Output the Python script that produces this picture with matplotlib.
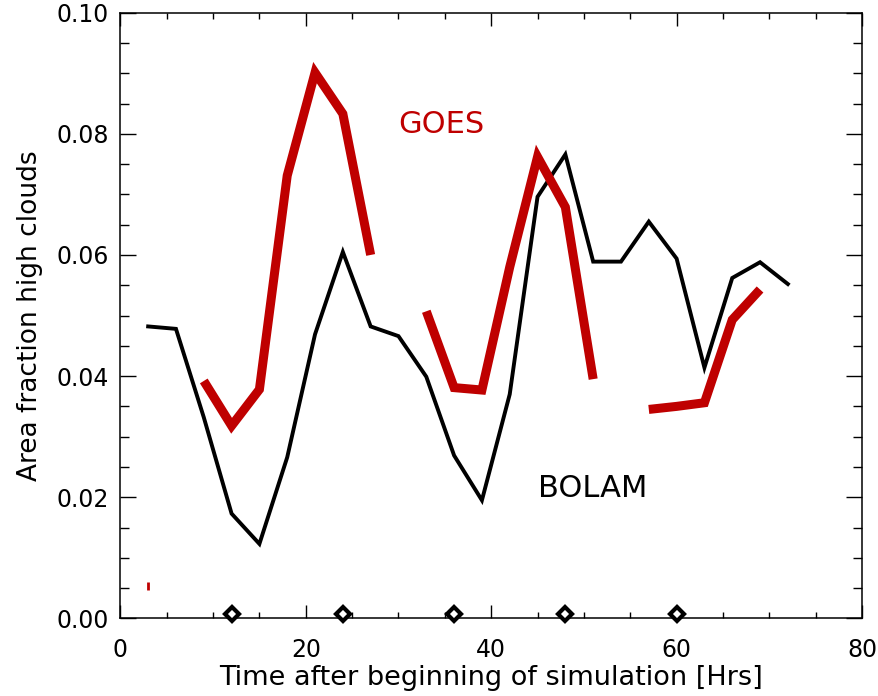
import numpy as np
import matplotlib
matplotlib.use("Agg")
import matplotlib.pyplot as plt
from matplotlib.ticker import MultipleLocator

# BOLAM model, every 3 hours
bolam_t = [3, 6, 9, 12, 15, 18, 21, 24, 27, 30, 33, 36, 39, 42, 45, 48,
           51, 54, 57, 60, 63, 66, 69, 72]
bolam_v = [0.0482, 0.0478, 0.0332, 0.0173, 0.0123, 0.0266, 0.0469, 0.0605,
           0.0482, 0.0466, 0.0399, 0.0269, 0.0195, 0.0370, 0.0696, 0.0766,
           0.0589, 0.0589, 0.0655, 0.0594, 0.0414, 0.0562, 0.0588, 0.0552]

# GOES observations, with gaps (NaN)
goes_t = [3, 6, 9, 12, 15, 18, 21, 24, 27, 30, 33, 36, 39, 42, 45, 48,
          51, 54, 57, 60, 63, 66, 69]
goes_v = [0.0053, np.nan, 0.0392, 0.0318, 0.0378, 0.0731, 0.0901, 0.0833,
          0.0600, np.nan, 0.0507, 0.0381, 0.0377, 0.0580, 0.0762, 0.0679,
          0.0395, np.nan, 0.0345, 0.0350, 0.0356, 0.0493, 0.0543]

# markers along the bottom
mark_t = [12, 24, 36, 48, 60]
mark_v = [0.0008, 0.0008, 0.0008, 0.0008, 0.0008]

RED = "#BF0000"

plt.rcParams["font.family"] = ["DejaVu Sans"]

fig = plt.figure(figsize=(8.79, 6.96), dpi=100)
ax = fig.add_axes([0.1369, 0.1115, 0.8438, 0.8703])

ax.plot(bolam_t, bolam_v, color="black", lw=2.8, solid_joinstyle="miter")
ax.plot(goes_t, goes_v, color=RED, lw=6.5, solid_joinstyle="miter",
        solid_capstyle="butt")
# isolated first GOES value
ax.plot(goes_t[:1], goes_v[:1], marker="|", color=RED, ms=6, mew=2)

ax.plot(mark_t, mark_v, ls="none", marker="D", ms=7.5, mfc="white",
        mec="black", mew=3, clip_on=False, zorder=5)

ax.text(34.6, 0.0816, "GOES", color=RED, fontsize=22, ha="center", va="center")
ax.text(51.0, 0.0214, "BOLAM", color="black", fontsize=22, ha="center", va="center")

ax.set_xlim(0, 80)
ax.set_ylim(0, 0.10)
ax.xaxis.set_major_locator(MultipleLocator(20))
ax.xaxis.set_minor_locator(MultipleLocator(5))
ax.yaxis.set_major_locator(MultipleLocator(0.02))
ax.yaxis.set_minor_locator(MultipleLocator(0.005))
ax.yaxis.set_major_formatter(plt.FuncFormatter(lambda v, p: f"{v:.2f}"))

ax.tick_params(axis="both", which="both", direction="in", top=True, right=True,
               width=1.0, labelsize=17)
ax.tick_params(axis="x", which="major", length=9.4, pad=14)
ax.tick_params(axis="x", which="minor", length=4.3)
ax.tick_params(axis="y", which="major", length=11.5, pad=8)
ax.tick_params(axis="y", which="minor", length=6.5)

for s in ax.spines.values():
    s.set_linewidth(1.1)

ax.set_xlabel("Time after beginning of simulation [Hrs]", fontsize=19.5, labelpad=2)
ax.set_ylabel("Area fraction high clouds", fontsize=19, labelpad=10)

fig.savefig("out.png", dpi=100)
